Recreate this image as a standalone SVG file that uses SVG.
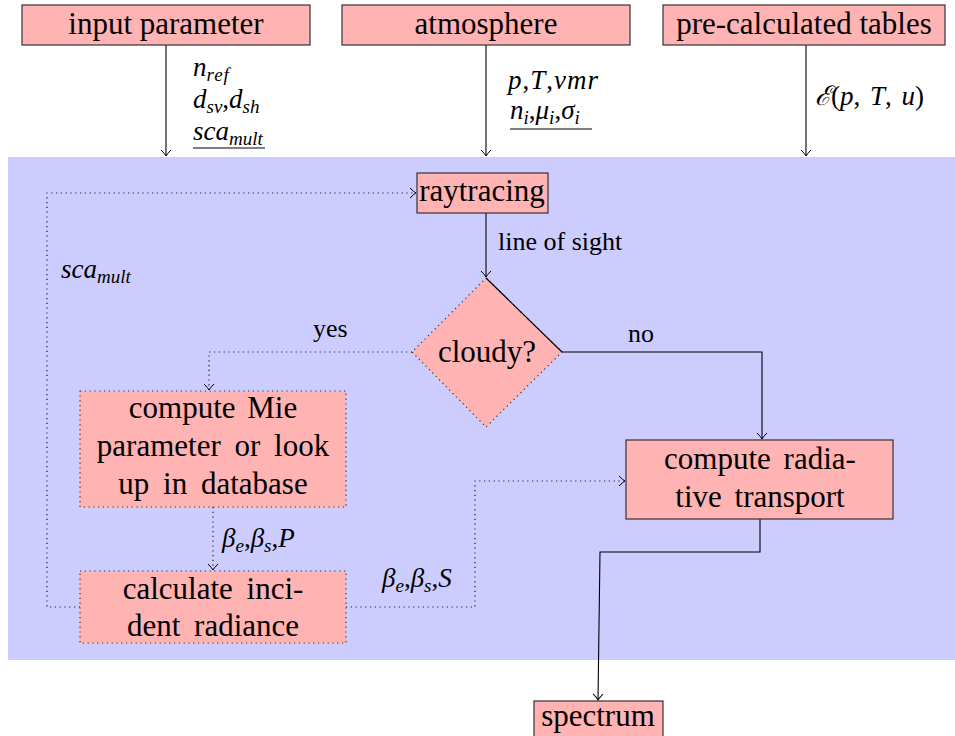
<svg xmlns="http://www.w3.org/2000/svg" width="955" height="736" viewBox="0 0 955 736">
<style>
.box{fill:#ffb3b3;stroke:#333;stroke-width:1.2}
.dbox{fill:#ffb3b3;stroke:#333;stroke-width:1.2;stroke-dasharray:1.2 3.6}
text{font-family:'Liberation Serif','Times New Roman','DejaVu Serif',serif;fill:#000}
.t{font-size:31px;text-anchor:middle}
.l{font-size:26px}
.m{font-size:27px;font-style:italic}
.up{font-style:normal}
.c{fill:none;stroke:#000;stroke-width:1.1}
.d{fill:none;stroke:#222;stroke-width:1.2;stroke-dasharray:1.2 3.6}
</style>
<defs>
<marker id="ar" viewBox="-8 -6 10 12" refX="0" refY="0" markerWidth="10" markerHeight="12" markerUnits="userSpaceOnUse" orient="auto">
<path d="M-6,-5 Q-2,-1 0,0 Q-2,1 -6,5" fill="none" stroke="#000" stroke-width="1"/>
</marker>
</defs>
<rect x="8" y="157" width="947" height="503" fill="#ccccff"/>

<g id="connectors">
<path class="c" d="M166,45 V156" marker-end="url(#ar)"/>
<path class="c" d="M486,45 V156" marker-end="url(#ar)"/>
<path class="c" d="M806,45 V156" marker-end="url(#ar)"/>
<path class="c" d="M486,213 V277" marker-end="url(#ar)"/>
<path class="c" d="M562,352 H762 V439" marker-end="url(#ar)"/>
<path class="d" d="M412,352 H209 V390" marker-end="url(#ar)"/>
<path class="d" d="M213,507 V570" marker-end="url(#ar)"/>
<path class="d" d="M80,607 H47 V193 H416" marker-end="url(#ar)"/>
<path class="d" d="M346,607 H475 V481 H625" marker-end="url(#ar)"/>
<path class="c" d="M760,519 V552 H600 L598,700" marker-end="url(#ar)"/>
<line x1="193" y1="148" x2="265" y2="148" stroke="#000" stroke-width="1.1"/>
<line x1="510" y1="129" x2="592" y2="129" stroke="#000" stroke-width="1.1"/>
</g>

<g id="input-parameter">
<rect class="box" x="22" y="5" width="288" height="40"/>
<text class="t" x="166" y="34">input parameter</text>
</g>
<g id="atmosphere">
<rect class="box" x="342" y="5" width="288" height="40"/>
<text class="t" x="486" y="34">atmosphere</text>
</g>
<g id="pre-calculated-tables">
<rect class="box" x="663" y="5" width="282" height="40"/>
<text class="t" x="804" y="34">pre-calculated tables</text>
</g>

<g id="raytracing">
<rect class="box" x="417" y="173" width="131" height="40"/>
<text class="t" x="482" y="201">raytracing</text>
</g>

<g id="cloudy">
<polygon points="486,278 562,352 486,427 412,352" fill="#ffb3b3" stroke="#333" stroke-width="1.2" stroke-dasharray="1.2 3.6"/>
<line x1="486" y1="278" x2="562" y2="352" stroke="#000" stroke-width="1.1"/>
<text class="t" x="487" y="362">cloudy?</text>
</g>

<g id="mie">
<rect class="dbox" x="80" y="391" width="266" height="116"/>
<text class="t" x="213" y="418" word-spacing="4">compute Mie</text>
<text class="t" x="213" y="456" word-spacing="6">parameter or look</text>
<text class="t" x="213" y="494" word-spacing="6">up in database</text>
</g>

<g id="incident">
<rect class="dbox" x="80" y="571" width="266" height="72"/>
<text class="t" x="213" y="599" word-spacing="6">calculate inci-</text>
<text class="t" x="213" y="636" word-spacing="6">dent radiance</text>
</g>

<g id="radiative-transport">
<rect class="box" x="626" y="440" width="267" height="79"/>
<text class="t" x="760" y="469" word-spacing="5">compute radia-</text>
<text class="t" x="760" y="507" word-spacing="5">tive transport</text>
</g>

<g id="spectrum">
<rect class="box" x="534" y="701" width="129" height="40"/>
<text class="t" x="598" y="726">spectrum</text>
</g>

<g id="labels">
<text class="m" x="193" y="76">n<tspan font-size="19" dy="5" letter-spacing="1">ref</tspan></text>
<text class="m" x="193" y="108">d<tspan font-size="19" dy="5">sv</tspan><tspan class="up" dy="-5">,</tspan>d<tspan font-size="19" dy="5">sh</tspan></text>
<text class="m" x="193" y="140">sca<tspan font-size="19" dy="5">mult</tspan></text>

<text class="m" x="508" y="89" letter-spacing="1">p<tspan class="up">,</tspan>T<tspan class="up">,</tspan>vmr</text>
<text class="m" x="510" y="119">n<tspan font-size="19" dy="5">i</tspan><tspan class="up" dy="-5">,</tspan>μ<tspan font-size="19" dy="5">i</tspan><tspan class="up" dy="-5">,</tspan>σ<tspan font-size="19" dy="5">i</tspan></text>

<text class="m" x="815" y="105" word-spacing="3">ℰ<tspan class="up">(</tspan>p<tspan class="up">, </tspan>T<tspan class="up">, </tspan>u<tspan class="up">)</tspan></text>

<text class="l" x="498" y="250">line of sight</text>
<text class="m" x="61" y="278">sca<tspan font-size="19" dy="5">mult</tspan></text>
<text class="l" x="313" y="337">yes</text>
<text class="l" x="628" y="342">no</text>
<text class="m" x="222" y="547">β<tspan font-size="19" dy="5">e</tspan><tspan class="up" dy="-5">,</tspan>β<tspan font-size="19" dy="5">s</tspan><tspan class="up" dy="-5">,</tspan>P</text>
<text class="m" x="382" y="587">β<tspan font-size="19" dy="5">e</tspan><tspan class="up" dy="-5">,</tspan>β<tspan font-size="19" dy="5">s</tspan><tspan class="up" dy="-5">,</tspan>S</text>
</g>
</svg>
